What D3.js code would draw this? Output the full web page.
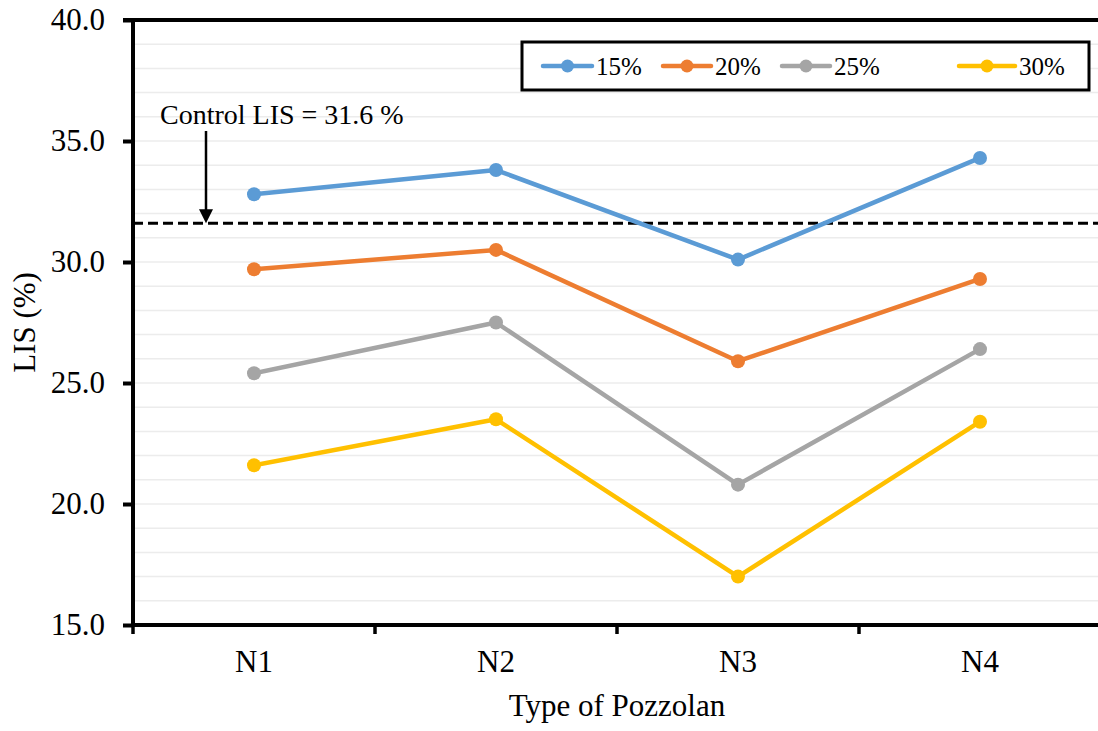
<!DOCTYPE html>
<html>
<head>
<meta charset="utf-8">
<script src="https://cdn.jsdelivr.net/npm/d3@7"></script>
<style>
  html, body { margin: 0; padding: 0; background: #fff; }
  svg { display: block; }
</style>
</head>
<body>
<svg id="chart" width="1098" height="731"></svg>
<script>
// Pozzolan types along the x axis
const categories = ["N1", "N2", "N3", "N4"];
// Replacement levels, one line each
const seriesNames = ["15%", "20%", "25%", "30%"];
const seriesColors = ["#5B9BD5", "#ED7D31", "#A5A5A5", "#FFC000"];
// LIS (%) per pozzolan type
const lis15 = [32.8, 33.8, 30.1, 34.3];
const lis20 = [29.7, 30.5, 25.9, 29.3];
const lis25 = [25.4, 27.5, 20.8, 26.4];
const lis30 = [21.6, 23.5, 17.0, 23.4];
const seriesValues = [lis15, lis20, lis25, lis30];
// Reference value for the control mix
const controlLIS = 31.6;
// Y axis ticks
const yTicks = [15, 20, 25, 30, 35, 40];
const yMinor = d3.range(15, 41, 1);

const FONT = "Liberation Serif";
const svg = d3.select("#chart");
const plot = { left: 133, right: 1101, top: 20, bottom: 625 };

const x = d3.scaleBand().domain(categories).range([plot.left, plot.right]);
const y = d3.scaleLinear().domain([15, 40]).range([plot.bottom, plot.top]);

// light horizontal gridlines every 1 %
svg.append("g").selectAll("line").data(yMinor.filter(v => v > 15 && v < 40)).join("line")
  .attr("x1", plot.left).attr("x2", plot.right)
  .attr("y1", d => y(d)).attr("y2", d => y(d))
  .attr("stroke", "#ececec").attr("stroke-width", 1.5);

// top border
svg.append("line")
  .attr("x1", plot.left - 10).attr("x2", plot.right)
  .attr("y1", y(40)).attr("y2", y(40))
  .attr("stroke", "#000").attr("stroke-width", 4);

// y axis
const yAxis = svg.append("g").attr("transform", `translate(${plot.left},0)`)
  .call(d3.axisLeft(y).tickValues(yTicks).tickFormat(d3.format(".1f")).tickSize(10).tickPadding(18));
yAxis.attr("font-family", FONT);
yAxis.select(".domain").attr("stroke-width", 4).attr("d", `M0,${plot.bottom + 2}V${plot.top - 2}`);
yAxis.selectAll(".tick line").attr("stroke-width", 4);
yAxis.selectAll(".tick text").attr("font-family", FONT).attr("font-size", 31).attr("fill", "#000");

// x axis with ticks on band boundaries
const xAxis = svg.append("g").attr("transform", `translate(0,${plot.bottom})`)
  .call(d3.axisBottom(x).tickSize(0).tickPadding(0));
xAxis.attr("font-family", FONT);
xAxis.select(".domain").attr("stroke-width", 4).attr("d", `M${plot.left - 2},0H${plot.right}`);
xAxis.selectAll(".tick text").attr("font-family", FONT).attr("font-size", 31)
  .attr("fill", "#000").attr("y", 47).attr("dy", null);
xAxis.selectAll(".bound").data(categories).join("line")
  .attr("class", "bound")
  .attr("x1", d => x(d)).attr("x2", d => x(d))
  .attr("y1", 0).attr("y2", 9)
  .attr("stroke", "#000").attr("stroke-width", 3.5);

// axis titles
svg.append("text").attr("x", 617).attr("y", 716)
  .attr("text-anchor", "middle").attr("font-family", FONT).attr("font-size", 31)
  .text("Type of Pozzolan");
svg.append("text").attr("transform", `translate(35,${(plot.top + plot.bottom) / 2}) rotate(-90)`)
  .attr("text-anchor", "middle").attr("font-family", FONT).attr("font-size", 31)
  .text("LIS (%)");

// control dashed line
svg.append("line")
  .attr("x1", plot.left).attr("x2", plot.right)
  .attr("y1", y(controlLIS)).attr("y2", y(controlLIS))
  .attr("stroke", "#000").attr("stroke-width", 3).attr("stroke-dasharray", "10,5");

// annotation and arrow
svg.append("text").attr("x", 160).attr("y", 124)
  .attr("font-family", FONT).attr("font-size", 28)
  .text(`Control LIS = ${controlLIS} %`);
svg.append("line").attr("x1", 206).attr("x2", 206).attr("y1", 131).attr("y2", y(controlLIS) - 12)
  .attr("stroke", "#000").attr("stroke-width", 2.5);
svg.append("path")
  .attr("d", `M199,${y(controlLIS) - 14}L213,${y(controlLIS) - 14}L206,${y(controlLIS)}Z`)
  .attr("fill", "#000");

// series lines and markers
const line = d3.line().x((d, i) => x(categories[i]) + x.bandwidth() / 2).y(d => y(d));
seriesValues.forEach((vals, s) => {
  const g = svg.append("g");
  g.append("path").datum(vals).attr("d", line)
    .attr("fill", "none").attr("stroke", seriesColors[s]).attr("stroke-width", 4.5)
    .attr("stroke-linejoin", "round");
  g.selectAll("circle").data(vals).join("circle")
    .attr("cx", (d, i) => x(categories[i]) + x.bandwidth() / 2)
    .attr("cy", d => y(d)).attr("r", 7).attr("fill", seriesColors[s]);
});

// legend
const legend = svg.append("g");
legend.append("rect").attr("x", 522).attr("y", 42).attr("width", 567).attr("height", 48)
  .attr("fill", "#fff").attr("stroke", "#000").attr("stroke-width", 3);
const legendX = [543, 663, 782, 959];
const legendW = [49, 48, 48, 56];
seriesNames.forEach((name, i) => {
  const lx = legendX[i], w = legendW[i];
  legend.append("line").attr("x1", lx).attr("x2", lx + w).attr("y1", 66).attr("y2", 66)
    .attr("stroke", seriesColors[i]).attr("stroke-width", 4.5).attr("stroke-linecap", "round");
  legend.append("circle").attr("cx", lx + w / 2).attr("cy", 66).attr("r", 6.5).attr("fill", seriesColors[i]);
  legend.append("text").attr("x", lx + w + 4).attr("y", 75)
    .attr("font-family", FONT).attr("font-size", 25).text(name);
});
</script>
</body>
</html>
